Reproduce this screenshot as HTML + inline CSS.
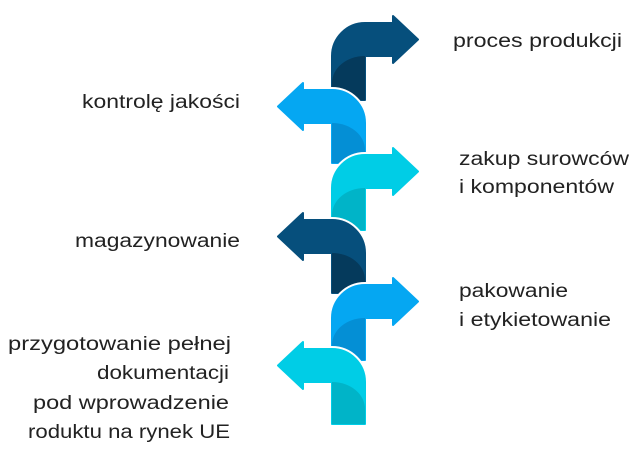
<!DOCTYPE html>
<html><head><meta charset="utf-8"><style>html,body{margin:0;padding:0;background:#fff}svg{display:block}</style></head>
<body>
<svg width="642" height="456" viewBox="0 0 642 456" xmlns="http://www.w3.org/2000/svg">
<defs></defs>
<g stroke-linejoin="round">
<!-- 1 right dark T=23 -->
<path d="M332,100 V56 A33,33 0 0 1 365,23 H393 V16 L418,39.5 L393,63 V56 H365 V100 Z" fill="#fff" stroke="#fff" stroke-width="6"/>
<path d="M332,100 V56 A33,33 0 0 1 365,23 H393 V16 L418,39.5 L393,63 V56 H365 V100 Z" fill="#064f7c" stroke="#064f7c" stroke-width="2"/>
<path d="M332,100 V83 A33,27 0 0 1 365,56 V100 Z" fill="#053a5c"/>
<!-- 2 left blue T=90 -->
<path d="M365,163 V123 A33,33 0 0 0 332,90 H303 V83 L278,106.5 L303,130 V123 H332 V163 Z" fill="#fff" stroke="#fff" stroke-width="6"/>
<path d="M365,163 V123 A33,33 0 0 0 332,90 H303 V83 L278,106.5 L303,130 V123 H332 V163 Z" fill="#05a7f2" stroke="#05a7f2" stroke-width="2"/>
<path d="M365,163 V150 A33,27 0 0 0 332,123 V163 Z" fill="#048fd5"/>
<!-- 3 right cyan T=155 -->
<path d="M332,230 V188 A33,33 0 0 1 365,155 H393 V148 L418,171.5 L393,195 V188 H365 V230 Z" fill="#fff" stroke="#fff" stroke-width="6"/>
<path d="M332,230 V188 A33,33 0 0 1 365,155 H393 V148 L418,171.5 L393,195 V188 H365 V230 Z" fill="#00cde6" stroke="#00cde6" stroke-width="2"/>
<path d="M332,230 V215 A33,27 0 0 1 365,188 V230 Z" fill="#00b4c8"/>
<!-- 4 left dark T=220 -->
<path d="M365,293 V253 A33,33 0 0 0 332,220 H303 V213 L278,236.5 L303,260 V253 H332 V293 Z" fill="#fff" stroke="#fff" stroke-width="6"/>
<path d="M365,293 V253 A33,33 0 0 0 332,220 H303 V213 L278,236.5 L303,260 V253 H332 V293 Z" fill="#064f7c" stroke="#064f7c" stroke-width="2"/>
<path d="M365,293 V280 A33,27 0 0 0 332,253 V293 Z" fill="#053a5c"/>
<!-- 5 right blue T=285 -->
<path d="M332,360 V318 A33,33 0 0 1 365,285 H393 V278 L418,301.5 L393,325 V318 H365 V360 Z" fill="#fff" stroke="#fff" stroke-width="6"/>
<path d="M332,360 V318 A33,33 0 0 1 365,285 H393 V278 L418,301.5 L393,325 V318 H365 V360 Z" fill="#05a7f2" stroke="#05a7f2" stroke-width="2"/>
<path d="M332,360 V345 A33,27 0 0 1 365,318 V360 Z" fill="#048fd5"/>
<!-- 6 left cyan T=349 -->
<path d="M365,424 V382 A33,33 0 0 0 332,349 H303 V342 L278,365.5 L303,389 V382 H332 V424 Z" fill="#fff" stroke="#fff" stroke-width="6"/>
<path d="M365,424 V382 A33,33 0 0 0 332,349 H303 V342 L278,365.5 L303,389 V382 H332 V424 Z" fill="#00cde6" stroke="#00cde6" stroke-width="2"/>
<path d="M365,424 V409 A33,27 0 0 0 332,382 V424 Z" fill="#00b4c8"/>
</g>
<g font-family="Liberation Sans, sans-serif" font-size="19" fill="#222" lengthAdjust="spacingAndGlyphs">
<text x="453" y="47" textLength="169" lengthAdjust="spacingAndGlyphs">proces produkcji</text>
<text x="82" y="108" textLength="158" lengthAdjust="spacingAndGlyphs">kontrolę jakości</text>
<text x="459" y="165" textLength="170" lengthAdjust="spacingAndGlyphs">zakup surowców</text>
<text x="459" y="193" textLength="155" lengthAdjust="spacingAndGlyphs">i komponentów</text>
<text x="75" y="247" textLength="165" lengthAdjust="spacingAndGlyphs">magazynowanie</text>
<text x="459" y="297" textLength="109" lengthAdjust="spacingAndGlyphs">pakowanie</text>
<text x="459" y="326" textLength="152" lengthAdjust="spacingAndGlyphs">i etykietowanie</text>
<text x="8" y="350" textLength="223" lengthAdjust="spacingAndGlyphs">przygotowanie pełnej</text>
<text x="97" y="379" textLength="132" lengthAdjust="spacingAndGlyphs">dokumentacji</text>
<text x="33" y="409" textLength="196" lengthAdjust="spacingAndGlyphs">pod wprowadzenie</text>
<text x="28" y="438" textLength="202" lengthAdjust="spacingAndGlyphs">roduktu na rynek UE</text>
</g>
</svg>
</body></html>
